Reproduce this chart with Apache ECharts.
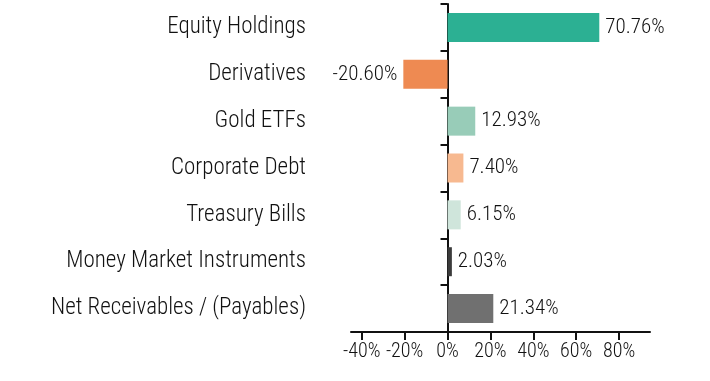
<!DOCTYPE html>
<html>
<head>
<meta charset="utf-8">
<script src="https://cdn.jsdelivr.net/npm/echarts@6/dist/echarts.min.js"></script>
<style>html,body{margin:0;padding:0;background:#fff}#c{width:710px;height:381px}</style>
</head>
<body>
<div id="c"></div>
<script>
const categories = ["Equity Holdings","Derivatives","Gold ETFs","Corporate Debt","Treasury Bills","Money Market Instruments","Net Receivables / (Payables)"];
const values = [70.76, -20.60, 12.93, 7.40, 6.15, 2.03, 21.34];
const colors = ["#2cb093","#ee8a52","#98ccb8","#f7b990","#cfe5db","#3b3b3b","#707070"];
const tickValues = [-40, -20, 0, 20, 40, 60, 80];

const FONT = "'Roboto Condensed','DejaVu Sans Condensed',sans-serif";
const chart = echarts.init(document.getElementById('c'), null, {renderer: 'canvas'});
chart.setOption({
  animation: false,
  grid: {left: 351, right: 60, top: 4, bottom: 49, containLabel: false, outerBoundsMode: 'none'},
  xAxis: {
    type: 'value', min: -45, max: 94.4,
    splitLine: {show: false},
    axisLine: {show: true, lineStyle: {color: '#111', width: 2}},
    axisTick: {show: true, length: 8, lineStyle: {color: '#111', width: 2}, customValues: tickValues},
    axisLabel: {customValues: tickValues, formatter: v => v + '%', color: '#111', fontFamily: FONT, fontWeight: 300, fontSize: 20, margin: 10, hideOverlap: false}
  },
  yAxis: {
    type: 'category', inverse: true, data: categories,
    axisLine: {show: true, onZero: true, lineStyle: {color: '#111', width: 2}},
    axisTick: {show: true, length: 7, lineStyle: {color: '#111', width: 2}},
    axisLabel: {color: '#111', fontFamily: FONT, fontWeight: 300, fontSize: 23, margin: 45}
  },
  series: [{
    type: 'bar', barWidth: 29,
    data: values.map((v, i) => ({
      value: v,
      itemStyle: {color: colors[i]},
      label: {position: v < 0 ? 'left' : 'right'}
    })),
    label: {show: true, distance: 6, color: '#111', fontFamily: FONT, fontWeight: 300, fontSize: 21,
      formatter: p => p.value.toFixed(2) + '%'}
  }]
});
</script>
</body>
</html>
